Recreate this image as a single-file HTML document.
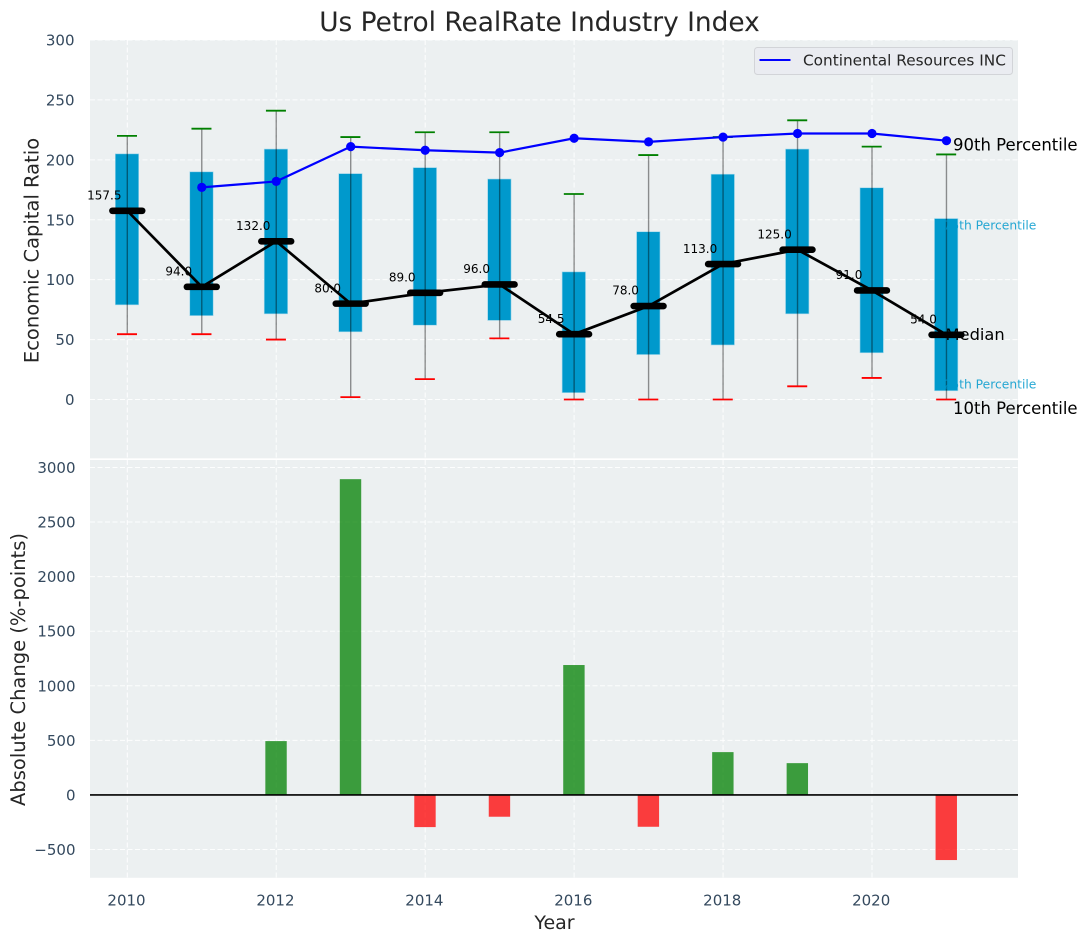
<!DOCTYPE html>
<html lang="en">
<head>
<meta charset="utf-8">
<title>Us Petrol RealRate Industry Index</title>
<style>
html,body{margin:0;padding:0;background:#fff;width:1088px;height:942px;overflow:hidden}
svg{display:block}
text{font-family:"DejaVu Sans","Liberation Sans",sans-serif}
</style>
</head>
<body>
<svg id="chart" xmlns="http://www.w3.org/2000/svg" width="1088" height="942" viewBox="0 0 1088 942">
  <text x="539.5" y="31" text-anchor="middle" font-size="26.4" fill="#262626">Us Petrol RealRate Industry Index</text>
  <rect x="90" y="40" width="928" height="418.3" fill="#ecf0f1"/>
  <rect x="90" y="460" width="928" height="417.8" fill="#ecf0f1"/>
  <g id="grid"></g>
  <g id="bars"></g>
  <line x1="90" x2="1018" y1="794.9" y2="794.9" stroke="#000" stroke-width="1.6"/>
  <g id="boxes"></g>
  <g id="lines"></g>
  <g id="ticks"></g>
  <g id="notes">
    <text x="953" y="150.7" font-size="16.5" fill="#000">90th Percentile</text>
    <text x="943.5" y="229.6" font-size="12.3" fill="#0099cc" fill-opacity="0.85">75th Percentile</text>
    <text x="945.5" y="340" font-size="16.3" fill="#000">Median</text>
    <text x="943.5" y="388.4" font-size="12.3" fill="#0099cc" fill-opacity="0.85">25th Percentile</text>
    <text x="953" y="414" font-size="16.5" fill="#000">10th Percentile</text>
  </g>
  <text transform="translate(38.3,250.5) rotate(-90)" text-anchor="middle" font-size="19.5" fill="#262626">Economic Capital Ratio</text>
  <text transform="translate(25,669.5) rotate(-90)" text-anchor="middle" font-size="19.5" fill="#262626">Absolute Change (%-points)</text>
  <text x="554.5" y="929" text-anchor="middle" font-size="19" fill="#262626">Year</text>
  <g>
    <rect x="754.5" y="47.5" width="258" height="27" rx="3" fill="#eaecf1" stroke="#d2d4d8" stroke-width="1"/>
    <line x1="759.5" x2="790.5" y1="60" y2="60" stroke="#0000ff" stroke-width="2"/>
    <text x="803" y="65.5" font-size="15.3" fill="#262626">Continental Resources INC</text>
  </g>
</svg>
<script>
const years = [2010, 2011, 2012, 2013, 2014, 2015, 2016, 2017, 2018, 2019, 2020, 2021];
const p75 = [205, 190, 209, 188.5, 193.5, 184, 106.5, 140, 188, 209, 176.7, 151];
const p25 = [79, 70, 71.5, 56.5, 62, 66, 5.7, 37.5, 45.5, 71.5, 39, 7.3];
const p90 = [220, 226, 241, 219, 223, 223, 171.5, 204, 219, 233, 211, 204.5];
const p10 = [54.5, 54.5, 50, 2, 17, 51, 0, 0, 0, 11, 18, 0];
const medians = [157.5, 94, 132, 80, 89, 96, 54.5, 78, 113, 125, 91, 54];
const company = [null, 177, 182, 211, 208, 206, 218, 215, 219, 222, 222, 216];
const changes = [0, 0, 493, 2893, -295, -200, 1190, -292, 392, 291, 0, -597];
const xTicks = [2010, 2012, 2014, 2016, 2018, 2020];
const yTicksTop = [0, 50, 100, 150, 200, 250, 300];
const yTicksBottom = [-500, 0, 500, 1000, 1500, 2000, 2500, 3000];

const SVG_NS = 'http://www.w3.org/2000/svg';
const xScale = function (year) { return 127.3 + (year - 2010) * 74.47; };
const yTop = function (v) { return 399.5 - v * 1.1983; };
const yBottom = function (v) { return 794.9 - v * 0.10914; };

function make(parentId, tag, props, text) {
  const node = document.createElementNS(SVG_NS, tag);
  Object.keys(props).forEach(function (k) { node.setAttribute(k, props[k]); });
  if (text !== undefined) node.textContent = text;
  document.getElementById(parentId).appendChild(node);
  return node;
}

/* gridlines */
xTicks.forEach(function (t) {
  [[40, 458.3], [460, 877.8]].forEach(function (span) {
    const el = make('grid', 'line', { x1: xScale(t), x2: xScale(t), y1: span[0], y2: span[1], stroke: '#fff', 'stroke-width': 1, 'stroke-dasharray': '5 2.5', 'stroke-opacity': 0.9 });
    
    
  });
});
yTicksTop.forEach(function (t) {
  const el = make('grid', 'line', { x1: 90, x2: 1018, y1: yTop(t), y2: yTop(t), stroke: '#fff', 'stroke-width': 1, 'stroke-dasharray': '5 2.5', 'stroke-opacity': 0.9 });
  
  
});
yTicksBottom.forEach(function (t) {
  const el = make('grid', 'line', { x1: 90, x2: 1018, y1: yBottom(t), y2: yBottom(t), stroke: '#fff', 'stroke-width': 1, 'stroke-dasharray': '5 2.5', 'stroke-opacity': 0.9 });
  
  
});

/* change bars */
years.forEach(function (year, i) {
  const v = changes[i];
  if (v === 0) return;
  const top = Math.min(yBottom(v), yBottom(0));
  const h = Math.abs(yBottom(v) - yBottom(0));
  const el = make('bars', 'rect', { x: xScale(year) - 10.9, y: top, width: 21.4, height: h, fill: v > 0 ? '#008000' : '#ff0000', 'fill-opacity': 0.75 });
  
  
});

/* percentile boxes, whiskers, caps */
years.forEach(function (year, i) {
  const x = xScale(year);
  const box = make('boxes', 'rect', { x: x - 12, y: yTop(p75[i]), width: 23.4, height: yTop(p25[i]) - yTop(p75[i]), fill: '#0099cc', stroke: '#9fd6ea', 'stroke-width': 0.6 });
  
  
  const whisker = make('boxes', 'line', { x1: x, x2: x, y1: yTop(p90[i]), y2: yTop(p10[i]), stroke: '#000', 'stroke-opacity': 0.42, 'stroke-width': 1.4 });
  
  
  const capHigh = make('boxes', 'line', { x1: x - 10.3, x2: x + 9.7, y1: yTop(p90[i]), y2: yTop(p90[i]), stroke: '#008000', 'stroke-width': 1.8 });
  
  
  const capLow = make('boxes', 'line', { x1: x - 10.3, x2: x + 9.7, y1: yTop(p10[i]), y2: yTop(p10[i]), stroke: '#ff0000', 'stroke-width': 1.8 });
  
  
});

/* company line */
const companyPts = [];
years.forEach(function (year, i) {
  if (company[i] !== null) companyPts.push(xScale(year) + ',' + yTop(company[i]));
});
const companyLine = make('lines', 'polyline', { points: companyPts.join(' '), fill: 'none', stroke: '#0000ff', 'stroke-width': 2.2 });


years.forEach(function (year, i) {
  if (company[i] === null) return;
  const el = make('lines', 'circle', { cx: xScale(year), cy: yTop(company[i]), r: 4.6, fill: '#0000ff' });
  
  
});

/* median line, thick markers, printed values */
const medianLine = make('lines', 'polyline', { points: years.map(function (year, i) { return xScale(year) + ',' + yTop(medians[i]); }).join(' '), fill: 'none', stroke: '#000', 'stroke-width': 2.7 });


years.forEach(function (year, i) {
  const x = xScale(year);
  const y = yTop(medians[i]);
  const bar = make('lines', 'line', { x1: x - 14.9, x2: x + 14.9, y1: y, y2: y, stroke: '#000', 'stroke-width': 6.6, 'stroke-linecap': 'round' });
  
  
  const label = make('lines', 'text', { x: x - 23, y: y - 11.3, 'text-anchor': 'middle', 'font-size': 12, fill: '#000' }, medians[i].toFixed(1));
  
  
});

/* tick labels */
xTicks.forEach(function (t) {
  const el = make('ticks', 'text', { x: xScale(t) - 0.8, y: 905.5, 'text-anchor': 'middle', 'font-size': 15, fill: '#34495e' }, String(t));
  
  
});
yTicksTop.forEach(function (t) {
  const el = make('ticks', 'text', { x: 74.5, y: yTop(t) + 5.5, 'text-anchor': 'end', 'font-size': 15, fill: '#34495e' }, String(t));
  
  
});
yTicksBottom.forEach(function (t) {
  const el = make('ticks', 'text', { x: 75.5, y: yBottom(t) + 5.5, 'text-anchor': 'end', 'font-size': 15, fill: '#34495e' }, String(t).replace('-', '\u2212'));
  
  
});
</script>
</body>
</html>
